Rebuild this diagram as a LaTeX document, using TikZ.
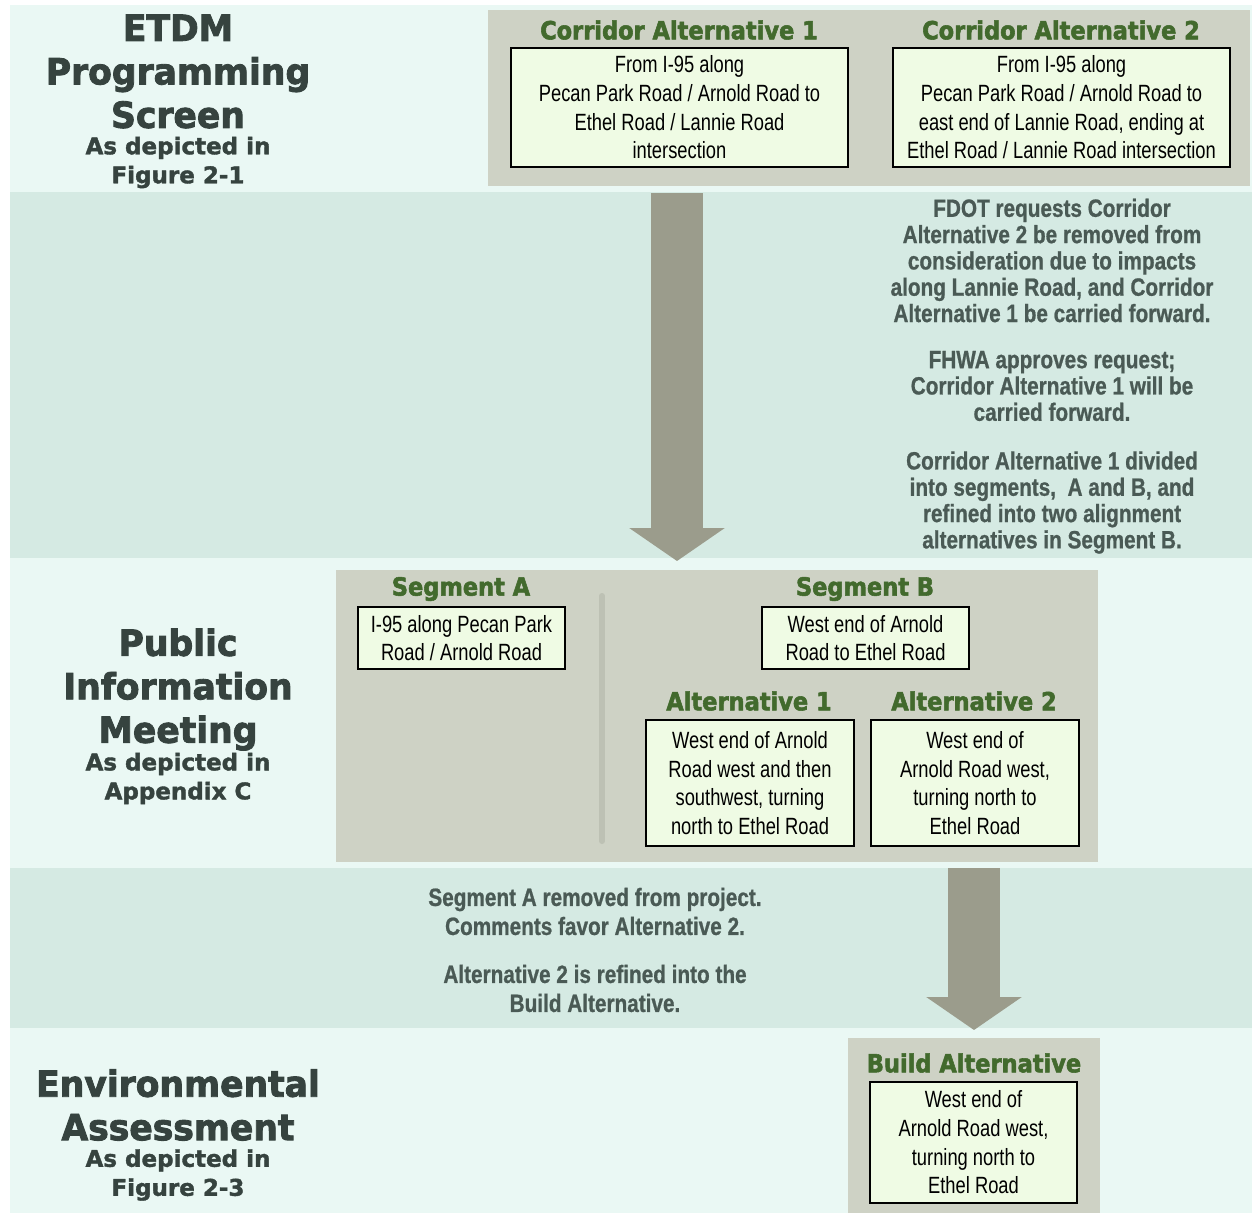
\documentclass[tikz,border=0pt]{standalone}
\usepackage{fontspec}
\usetikzlibrary{arrows.meta}
\setmainfont{Liberation Sans}
\newfontfamily\headfont{DejaVu Sans Bold}[FakeStretch=0.9, FakeBold=2.2]
\newfontfamily\titlefont{DejaVu Sans Bold}[FakeStretch=0.96, FakeBold=2.4]
\newfontfamily\subfont{DejaVu Sans Bold}[FakeBold=1.6]
\newfontfamily\bodyfont{Liberation Sans}[FakeStretch=0.78]
\newfontfamily\notefont{Liberation Sans Bold}[FakeStretch=0.83, FakeBold=0.8]
\definecolor{bandA}{HTML}{EAF8F4}
\definecolor{bandB}{HTML}{D5EAE3}
\definecolor{panel}{HTML}{CED2C5}
\definecolor{boxfill}{HTML}{EFFBE4}
\definecolor{headgreen}{HTML}{426A2D}
\definecolor{titlec}{HTML}{36433F}
\definecolor{notec}{HTML}{4A5A55}
\definecolor{arrowc}{HTML}{9B9C8C}
\definecolor{divc}{HTML}{BDC1B4}
\tikzset{
  panelbox/.style={fill=panel, draw=none},
  altbox/.style={draw=black, line width=1.8pt, fill=boxfill, inner sep=0pt, align=center,
    font=\bodyfont\fontsize{23.5}{28.7}\selectfont},
  heading/.style={text=headgreen, inner sep=0pt, font=\headfont\fontsize{25}{30}\selectfont},
  titletext/.style={text=titlec, inner sep=0pt, align=center, font=\titlefont\fontsize{36}{43.5}\selectfont},
  subtitletext/.style={text=titlec, inner sep=0pt, align=center, font=\subfont\fontsize{23}{29}\selectfont},
  notetext/.style={text=notec, inner sep=0pt, align=center, font=\notefont\fontsize{25}{26.3}\selectfont},
  lowernote/.style={text=notec, inner sep=0pt, align=center, font=\notefont\fontsize{25}{29}\selectfont},
  bigarrow/.style={draw=arrowc, line width=52pt, -{Triangle[width=94pt,length=33pt]}},
}
\begin{document}
\begin{tikzpicture}[x=1pt,y=-1pt]
\useasboundingbox (0,0) rectangle (1252,1213);
\fill[white] (0,0) rectangle (1252,1213);
% bands
\fill[bandA] (10,5) rectangle (1252,192);
\fill[bandB] (10,192) rectangle (1252,558);
\fill[bandA] (10,558) rectangle (1252,868);
\fill[bandB] (10,868) rectangle (1252,1028);
\fill[bandA] (10,1028) rectangle (1252,1213);
% panels
\fill[panel] (488,10) rectangle (1250,186);
\fill[panel] (336,570) rectangle (1098,862);
\fill[panel] (848,1038) rectangle (1100,1213);
% divider
\draw[divc, line width=6pt, line cap=round] (602,596) -- (602,841);
% arrows
\coordinate (a1s) at (677,193);
\coordinate (a1e) at (677,561);
\coordinate (a2s) at (974,868);
\coordinate (a2e) at (974,1030);
\draw[bigarrow] (a1s) -- (a1e);
\draw[bigarrow] (a2s) -- (a2e);
% left titles
\node[titletext] (t1) at (178,71.5) {ETDM\\Programming\\Screen};
\node[subtitletext] (s1) at (178,162.5) {As depicted in\\Figure 2-1};
\node[titletext] (t2) at (178,689.5) {Public\\Information\\Meeting};
\node[subtitletext] (s2) at (178,778.5) {As depicted in\\Appendix C};
\node[titletext] (t3) at (178,1105) {Environmental\\Assessment};
\node[subtitletext] (s3) at (178,1175) {As depicted in\\Figure 2-3};
% headings
\node[heading] (h1) at (679,30) {Corridor Alternative 1};
\node[heading] (h2) at (1061,30) {Corridor Alternative 2};
\node[heading] (h3) at (461,589) {Segment A};
\node[heading] (h4) at (865,589) {Segment B};
\node[heading] (h5) at (749,701) {Alternative 1};
\node[heading] (h6) at (974,701) {Alternative 2};
\node[heading] (h7) at (974,1063) {Build Alternative};
% boxes
\node[altbox, minimum width=337pt, minimum height=119pt] (ca1) at (679.5,107.5)
  {From I-95 along\\Pecan Park Road / Arnold Road to\\Ethel Road / Lannie Road\\intersection};
\node[altbox, minimum width=337pt, minimum height=119pt] (ca2) at (1061.5,107.5)
  {From I-95 along\\Pecan Park Road / Arnold Road to\\east end of Lannie Road, ending at\\Ethel Road / Lannie Road intersection};
\node[altbox, minimum width=207pt, minimum height=62pt] (sa) at (461.5,638)
  {I-95 along Pecan Park\\Road / Arnold Road};
\node[altbox, minimum width=207pt, minimum height=62pt] (sb) at (865.5,638)
  {West end of Arnold\\Road to Ethel Road};
\node[altbox, minimum width=208pt, minimum height=126pt] (al1) at (750,783)
  {West end of Arnold\\Road west and then\\southwest, turning\\north to Ethel Road};
\node[altbox, minimum width=208pt, minimum height=126pt] (al2) at (975,783)
  {West end of\\Arnold Road west,\\turning north to\\Ethel Road};
\node[altbox, minimum width=207pt, minimum height=121pt] (ba) at (973.5,1142.5)
  {West end of\\Arnold Road west,\\turning north to\\Ethel Road};
% notes
\node[notetext] (n1) at (1052,260.5) {FDOT requests Corridor\\Alternative 2 be removed from\\consideration due to impacts\\along Lannie Road, and Corridor\\Alternative 1 be carried forward.};
\node[notetext] (n2) at (1052,386) {FHWA approves request;\\Corridor Alternative 1 will be\\carried forward.};
\node[notetext] (n3) at (1052,502.5) {Corridor Alternative 1 divided\\into segments,\ \ A and B, and\\refined into two alignment\\alternatives in Segment B.};
\node[lowernote] (n4) at (595,911.5) {Segment A removed from project.\\Comments favor Alternative 2.};
\node[lowernote] (n5) at (595,988.5) {Alternative 2 is refined into the\\Build Alternative.};
\end{tikzpicture}
\end{document}
